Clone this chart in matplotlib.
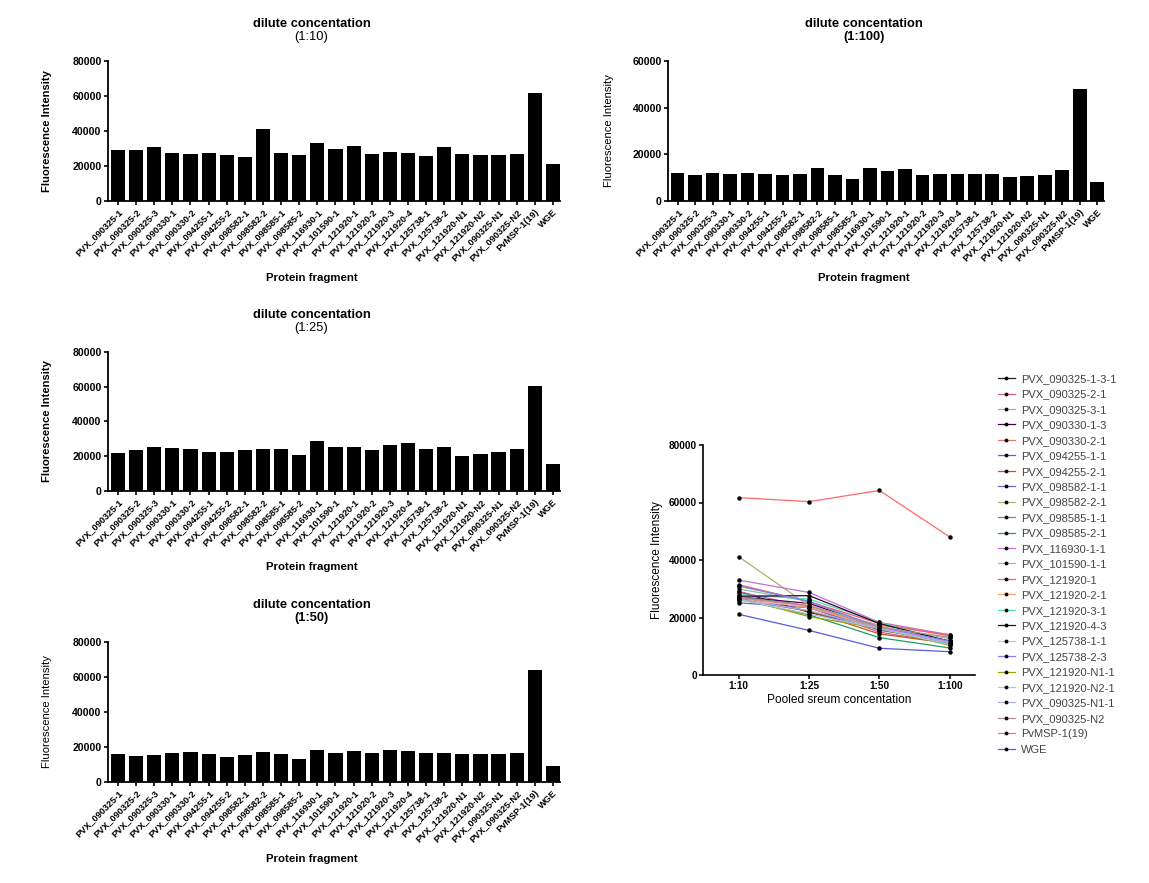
import numpy as np
import matplotlib
matplotlib.use("Agg")
import matplotlib.pyplot as plt

plt.rcParams["font.family"] = ["Liberation Sans", "DejaVu Sans"]

fragments = ["PVX_090325-1", "PVX_090325-2", "PVX_090325-3", "PVX_090330-1", "PVX_090330-2",
             "PVX_094255-1", "PVX_094255-2", "PVX_098582-1", "PVX_098582-2", "PVX_098585-1",
             "PVX_098585-2", "PVX_116930-1", "PVX_101590-1", "PVX_121920-1", "PVX_121920-2",
             "PVX_121920-3", "PVX_121920-4", "PVX_125738-1", "PVX_125738-2", "PVX_121920-N1",
             "PVX_121920-N2", "PVX_090325-N1", "PVX_090325-N2", "PvMSP-1(19)", "WGE"]

legend_names = ["PVX_090325-1-3-1", "PVX_090325-2-1", "PVX_090325-3-1", "PVX_090330-1-3",
                "PVX_090330-2-1", "PVX_094255-1-1", "PVX_094255-2-1", "PVX_098582-1-1",
                "PVX_098582-2-1", "PVX_098585-1-1", "PVX_098585-2-1", "PVX_116930-1-1",
                "PVX_101590-1-1", "PVX_121920-1", "PVX_121920-2-1", "PVX_121920-3-1",
                "PVX_121920-4-3", "PVX_125738-1-1", "PVX_125738-2-3", "PVX_121920-N1-1",
                "PVX_121920-N2-1", "PVX_090325-N1-1", "PVX_090325-N2", "PvMSP-1(19)", "WGE"]

dil_10 = [29000, 29000, 30900, 27200, 26900, 27200, 26300, 25100, 41100, 27200,
          26300, 33000, 29900, 31400, 26900, 28000, 27400, 25900, 31000, 26900,
          26300, 26300, 26900, 61700, 21100]
dil_25 = [21800, 23500, 25600, 24900, 24100, 22200, 22200, 23400, 24100, 24100,
          20900, 28700, 25600, 25500, 23400, 26400, 27600, 24100, 25600, 20300,
          21200, 22400, 24100, 60300, 15500]
dil_50 = [16000, 14900, 15600, 16600, 17000, 16000, 14300, 15600, 17300, 16000,
          13000, 18300, 16600, 17900, 16600, 18300, 17900, 16600, 16600, 16200,
          16200, 16200, 16600, 64200, 9300]
dil_100 = [11900, 11000, 11900, 11600, 11900, 11600, 11000, 11700, 14000, 11000,
           9400, 14000, 12700, 13600, 11300, 11600, 11700, 11600, 11700, 10300,
           10600, 11300, 13100, 48000, 8100]

concentrations = ["1:10", "1:25", "1:50", "1:100"]

line_colors = ["#202020", "#d85a90", "#c8a878", "#500050", "#e07878",
               "#6a5acd", "#b85a1a", "#7060c0", "#b0b060", "#609090",
               "#20a060", "#c070d0", "#80c8a8", "#ff5a5a", "#ffa070",
               "#50e0a0", "#300040", "#ffb0b0", "#8080ff", "#a0a000",
               "#a8c8e8", "#b0b0e0", "#b09090", "#ff6a6a", "#5a5ae0"]

fig = plt.figure(figsize=(11.49, 8.83), dpi=100)
W, H = 1149, 883


def px_axes(left, top, right, bottom):
    return fig.add_axes([left / W, 1 - bottom / H, (right - left) / W, (bottom - top) / H])


def bar_panel(ax, values, ymax, label, bold_sub, bold_axis):
    x = np.arange(len(fragments))
    ax.bar(x, values, width=0.78, color="black")
    ax.set_xlim(-0.55, len(fragments) - 0.61)
    ax.set_ylim(0, ymax)
    ax.set_yticks(np.arange(0, ymax + 1, 20000))
    ax.set_xticks(x)
    ax.set_xticklabels(fragments, rotation=45, ha="right", rotation_mode="anchor",
                       fontsize=6.6, fontweight="bold")
    for t in ax.get_yticklabels():
        t.set_fontsize(7.6)
        t.set_fontweight("bold")
    for s in ["top", "right"]:
        ax.spines[s].set_visible(False)
    for s in ["left", "bottom"]:
        ax.spines[s].set_linewidth(1.3)
    ax.tick_params(direction="out", length=3, width=1.2, pad=1.5)
    w = "bold" if bold_axis else "normal"
    ax.set_ylabel("Fluorescence Intensity", fontsize=8.1, fontweight=w)
    ax.yaxis.set_label_coords(-0.125, 0.5)
    ax.text(0.45, -0.55, "Protein fragment", transform=ax.transAxes, ha="center",
            va="center", fontsize=8.2, fontweight="bold" if bold_axis else "semibold")
    ax.text(0.45, 1.265, "dilute concentation", transform=ax.transAxes, ha="center",
            va="center", fontsize=9.3, fontweight="bold")
    ax.text(0.45, 1.17, label, transform=ax.transAxes, ha="center", va="center",
            fontsize=9.3, fontweight="bold" if bold_sub else "normal")


ax1 = px_axes(108, 61, 560, 201)
bar_panel(ax1, dil_10, 80000, "(1:10)", False, True)
ax2 = px_axes(668, 61, 1104, 201)
bar_panel(ax2, dil_100, 60000, "(1:100)", True, False)
ax3 = px_axes(108, 352, 560, 491)
bar_panel(ax3, dil_25, 80000, "(1:25)", False, True)
ax4 = px_axes(108, 642, 560, 782)
bar_panel(ax4, dil_50, 80000, "(1:50)", True, False)

# line chart of all fragments across dilutions
ax5 = px_axes(703, 445, 975, 675)
xc = np.arange(len(concentrations))
handles = []
for i, name in enumerate(legend_names):
    ys = [dil_10[i], dil_25[i], dil_50[i], dil_100[i]]
    h, = ax5.plot(xc, ys, color=line_colors[i], lw=0.9, marker="o", ms=2.2,
                  mfc="black", mec="black", label=name)
    handles.append(h)
ax5.set_xlim(-0.51, 3.36)
ax5.set_ylim(0, 80000)
ax5.set_yticks(np.arange(0, 80001, 20000))
ax5.set_xticks(xc)
ax5.set_xticklabels(concentrations, fontsize=7.2, fontweight="bold")
for t in ax5.get_yticklabels():
    t.set_fontsize(7.2)
    t.set_fontweight("bold")
for s in ["top", "right"]:
    ax5.spines[s].set_visible(False)
for s in ["left", "bottom"]:
    ax5.spines[s].set_linewidth(1.2)
ax5.tick_params(direction="out", length=3, width=1.1, pad=1.5)
ax5.set_ylabel("Fluorescence Intensity", fontsize=8.5)
ax5.yaxis.set_label_coords(-0.147, 0.5)
ax5.set_xlabel("Pooled sreum concentation", fontsize=8.6, labelpad=2)

fig.legend(handles=handles, loc="upper left", bbox_to_anchor=(998 / W, 1 - 374 / H),
           frameon=False, fontsize=8, handlelength=1.5, handletextpad=0.6,
           labelspacing=0.49, borderaxespad=0, borderpad=0, labelcolor="#444444",
           markerscale=0.8)

fig.savefig("out.png", dpi=100)
